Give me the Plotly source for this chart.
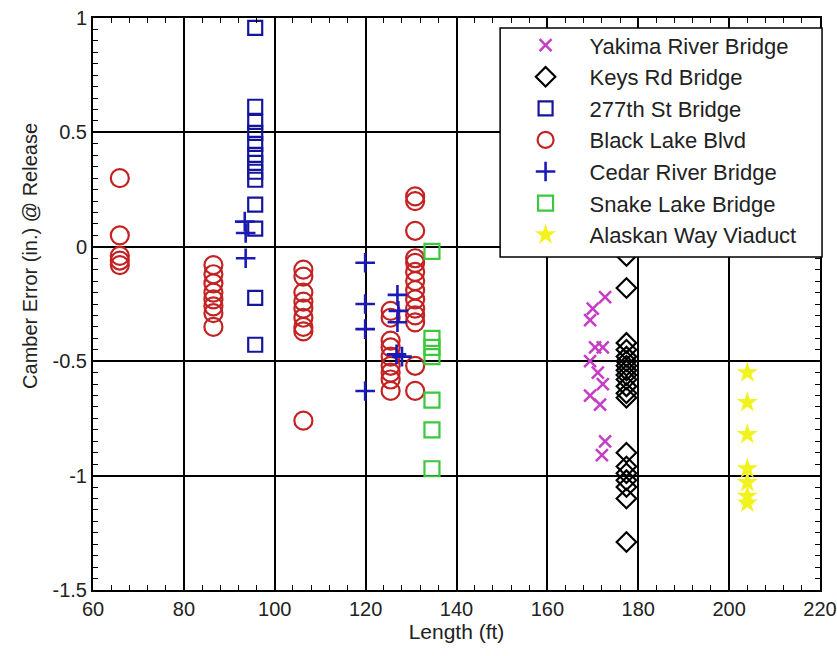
import plotly.graph_objects as go

# ---- data ----
yakima_x = [172.7, 170.0, 169.4, 170.5, 172.2, 169.4, 171.1, 172.2, 169.4, 171.6, 172.7, 172.0]
yakima_y = [-0.22, -0.27, -0.32, -0.44, -0.44, -0.50, -0.55, -0.60, -0.65, -0.69, -0.85, -0.91]

keys_x = [177.4] * 20
keys_y = [-0.04, -0.18, -0.42, -0.45, -0.48, -0.50, -0.52, -0.54, -0.56, -0.58,
          -0.61, -0.64, -0.66, -0.90, -0.96, -0.99, -1.02, -1.05, -1.10, -1.29]

st277_x = [95.7] * 13
st277_y = [0.957, 0.612, 0.546, 0.498, 0.450, 0.402, 0.367, 0.328, 0.293, 0.184, 0.079, -0.223, -0.428]

blacklake_x = ([65.9] * 5 + [86.5] * 8 + [106.3] * 9 + [125.5] * 9 + [130.9] * 14)
blacklake_y = ([0.30, 0.05, -0.04, -0.06, -0.08] +
               [-0.08, -0.12, -0.16, -0.20, -0.23, -0.26, -0.29, -0.35] +
               [-0.10, -0.13, -0.20, -0.24, -0.27, -0.31, -0.35, -0.37, -0.76] +
               [-0.28, -0.31, -0.41, -0.44, -0.48, -0.52, -0.55, -0.58, -0.63] +
               [0.22, 0.20, 0.07, -0.05, -0.07, -0.11, -0.15, -0.19, -0.23, -0.27, -0.30, -0.33, -0.52, -0.63])

cedar_x = [93.4, 93.6, 93.6, 119.9, 119.9, 119.9, 119.9, 127.0, 127.2, 127.0, 126.8, 128.0]
cedar_y = [0.11, 0.06, -0.05, -0.07, -0.25, -0.36, -0.63, -0.21, -0.28, -0.33, -0.47, -0.48]

snake_x = [134.6] * 7
snake_y = [-0.02, -0.40, -0.44, -0.48, -0.67, -0.80, -0.97]

alaskan_x = [204.0] * 7
alaskan_y = [-0.55, -0.68, -0.82, -0.97, -1.03, -1.09, -1.12]

x_ticks = [60, 80, 100, 120, 140, 160, 180, 200, 220]
y_ticks = [-1.5, -1, -0.5, 0, 0.5, 1]
y_tick_text = ["-1.5", "-1", "-0.5", "0", "0.5", "1"]

FONT = "Liberation Sans, Arial, sans-serif"
TXT = "#222222"

series = [
    ("Yakima River Bridge", yakima_x, yakima_y, dict(symbol="x-thin-open", size=12, color="#c63cc6",
                                                       line=dict(color="#c63cc6", width=2.5))),
    ("Keys Rd Bridge", keys_x, keys_y, dict(symbol="diamond-open", size=15, color="black",
                                              line=dict(color="black", width=2.2))),
    ("277th St Bridge", st277_x, st277_y, dict(symbol="square-open", size=14, color="#15159a",
                                                 line=dict(color="#15159a", width=2.2))),
    ("Black Lake Blvd", blacklake_x, blacklake_y, dict(symbol="circle-open", size=18, color="#c42222",
                                                         line=dict(color="#c42222", width=2.2))),
    ("Cedar River Bridge", cedar_x, cedar_y, dict(symbol="cross-thin-open", size=14, color="#1a1ab8",
                                                    line=dict(color="#1a1ab8", width=2.6))),
    ("Snake Lake Bridge", snake_x, snake_y, dict(symbol="square-open", size=15, color="#3cc83c",
                                                   line=dict(color="#3cc83c", width=2.2))),
    ("Alaskan Way Viaduct", alaskan_x, alaskan_y, dict(symbol="star", size=16, color="#f2f21e",
                                                         line=dict(color="#f2f21e", width=0))),
]

fig = go.Figure()
for i, (name, xs, ys, mk) in enumerate(series):
    fig.add_trace(go.Scatter(x=xs, y=ys, mode="markers", name=name, marker=mk,
                             legendgroup="g%d" % i))

axis_common = dict(
    showline=True, linecolor="black", linewidth=2, mirror="ticks",
    showgrid=True, gridcolor="black", gridwidth=1.5,
    ticks="inside", ticklen=6, tickcolor="black",
    zeroline=False, automargin=False,
    tickfont=dict(family=FONT, size=20, color=TXT),
)

fig.update_layout(
    width=837, height=656,
    margin=dict(l=93, r=17, t=18, b=66),
    paper_bgcolor="white", plot_bgcolor="white",
    font=dict(family=FONT, size=20, color=TXT),
    xaxis=dict(range=[60, 220], tickvals=x_ticks, **axis_common,
               minor=dict(dtick=4, ticks="inside", ticklen=5, tickcolor="black", showgrid=False),
               title=dict(text="Length (ft)", font=dict(family=FONT, size=21, color=TXT), standoff=4)),
    yaxis=dict(range=[-1.5, 1], tickvals=y_ticks, ticktext=y_tick_text, **axis_common,
               minor=dict(dtick=0.05, ticks="inside", ticklen=5, tickcolor="black", showgrid=False)),
    annotations=[dict(text="Camber Error (in.) @ Release", textangle=-90,
                      xref="paper", yref="paper", x=-0.0867, y=0.584,
                      xanchor="center", yanchor="middle", showarrow=False,
                      font=dict(family=FONT, size=20, color=TXT))],
    shapes=[dict(type="rect", xref="paper", yref="paper", x0=0.560, x1=1.0028, y0=0.582, y1=0.9825,
                 fillcolor="white", line=dict(color="black", width=1.5), layer="above")],
    showlegend=True,
    legend=dict(x=0.562, xanchor="left", y=0.989, yanchor="top",
                bgcolor="rgba(0,0,0,0)", borderwidth=0,
                font=dict(family=FONT, size=22, color=TXT),
                itemwidth=78, tracegroupgap=3, traceorder="normal"),
)

fig.write_html("out.html", config={"displayModeBar": False},
               post_script="document.body.style.margin='0';")
